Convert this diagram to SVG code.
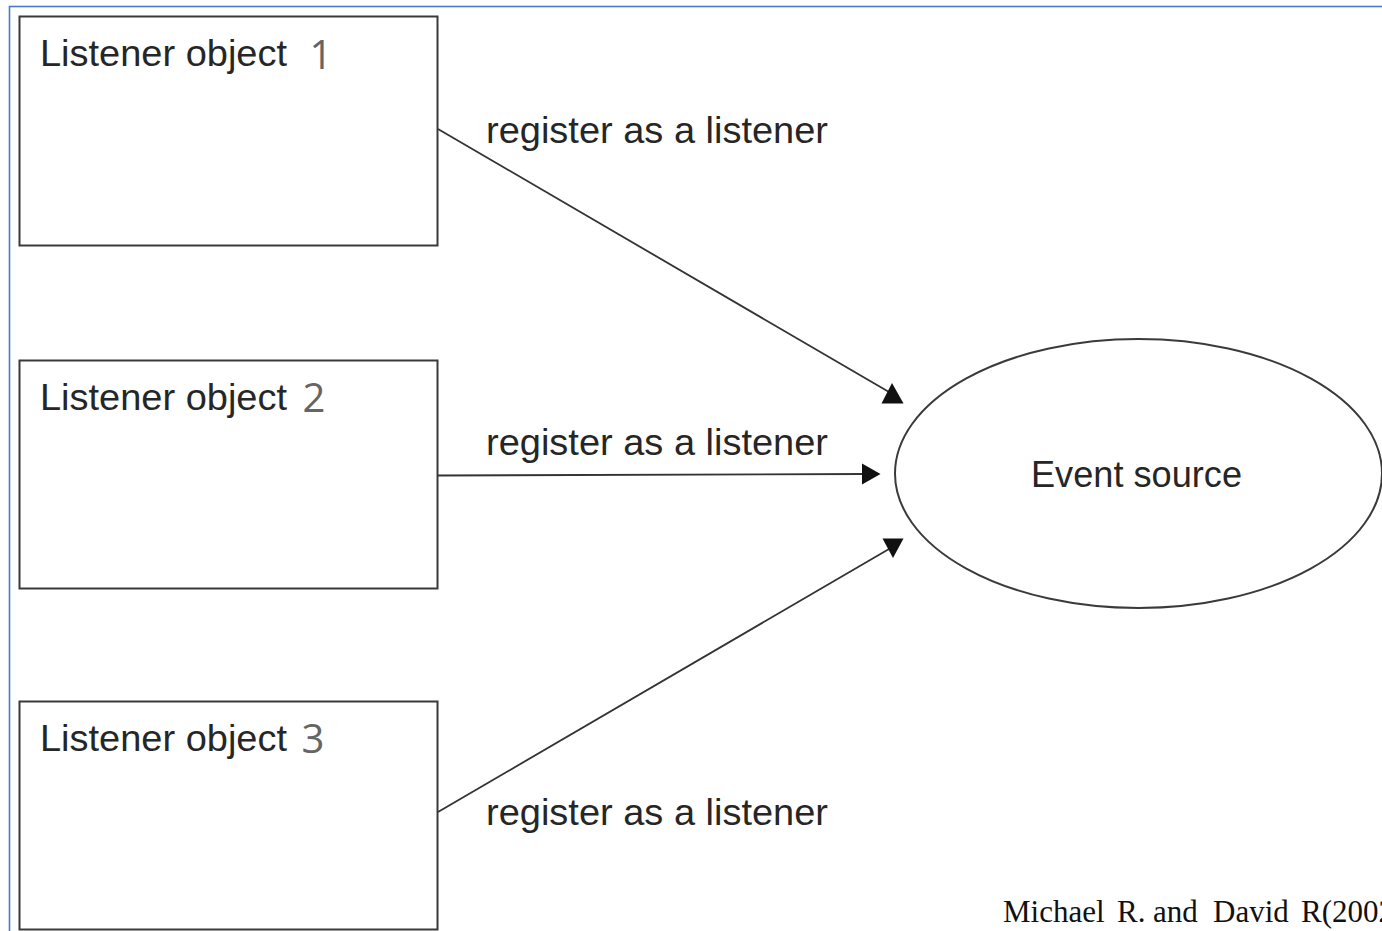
<svg xmlns="http://www.w3.org/2000/svg" width="1382" height="931" viewBox="0 0 1382 931">
  <style>
    .box { fill: #ffffff; stroke: #3a3a3a; stroke-width: 2; }
    .lbl { font-family: "Liberation Sans", Arial, sans-serif; font-size: 36px; fill: #262626; }
    .num { font-family: "Open Sans", "Noto Sans", sans-serif; font-size: 40px; fill: #656565; text-anchor: middle; }
    .conn { stroke: #333333; stroke-width: 1.8; fill: none; }
    .head { fill: #111111; stroke: none; }
    .cite { font-family: "Liberation Serif", "Times New Roman", serif; font-size: 31px; fill: #111111; }
  </style>
  <rect x="0" y="0" width="1382" height="931" fill="#ffffff"/>
  <rect x="9.5" y="6.5" width="1400" height="1000" fill="none" stroke="#4a78cc" stroke-width="1.6"/>

  <g id="listener1">
    <rect class="box" x="19.5" y="16.5" width="418" height="229"/>
    <text class="lbl" x="40" y="66" textLength="247" lengthAdjust="spacingAndGlyphs">Listener object</text>
    <text class="num" x="321" y="69">1</text>
  </g>
  <g id="listener2">
    <rect class="box" x="19.5" y="360.5" width="418" height="228"/>
    <text class="lbl" x="40" y="410" textLength="247" lengthAdjust="spacingAndGlyphs">Listener object</text>
    <text class="num" x="314" y="412">2</text>
  </g>
  <g id="listener3">
    <rect class="box" x="19.5" y="701.5" width="418" height="228"/>
    <text class="lbl" x="40" y="751" textLength="247" lengthAdjust="spacingAndGlyphs">Listener object</text>
    <text class="num" x="313" y="753">3</text>
  </g>
  <g id="event-source">
    <ellipse cx="1138.5" cy="473.5" rx="243.5" ry="134.5" fill="#ffffff" stroke="#3a3a3a" stroke-width="2"/>
    <text class="lbl" x="1031" y="487" textLength="211" lengthAdjust="spacingAndGlyphs">Event source</text>
  </g>

  <g id="connectors">
    <line class="conn" x1="438" y1="129" x2="889" y2="392"/>
    <polygon class="head" points="892,383 881.5,403.5 903.5,403.5"/>
    <text class="lbl" x="486" y="143" textLength="342" lengthAdjust="spacingAndGlyphs">register as a listener</text>

    <line class="conn" x1="438" y1="475.5" x2="866" y2="474"/>
    <polygon class="head" points="862,463.5 880.5,474 862,484.5"/>
    <text class="lbl" x="486" y="455" textLength="342" lengthAdjust="spacingAndGlyphs">register as a listener</text>

    <line class="conn" x1="438" y1="812" x2="889" y2="549"/>
    <polygon class="head" points="882.5,538.5 903.5,538.5 893,558"/>
    <text class="lbl" x="486" y="825" textLength="342" lengthAdjust="spacingAndGlyphs">register as a listener</text>
  </g>

  <text class="cite" y="922"><tspan x="1003">Michael</tspan><tspan x="1117">R.</tspan><tspan x="1153">and</tspan><tspan x="1213">David</tspan><tspan x="1301">R(2002</tspan></text>
</svg>
